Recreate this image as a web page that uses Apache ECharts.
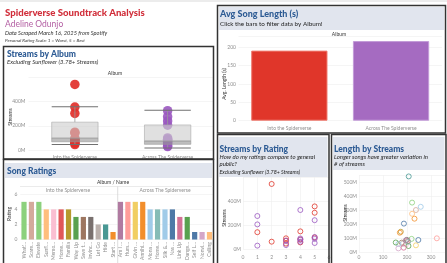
<!DOCTYPE html>
<html><head><meta charset="utf-8">
<script src="https://cdn.jsdelivr.net/npm/echarts@6/dist/echarts.min.js"></script>
<style>html,body{margin:0;padding:0;background:#fff}#c{width:447px;height:263px}</style>
</head><body><div id="c"></div>
<script>
// ---------- DATA ----------
const albums = ['Into the Spiderverse', 'Across The Spiderverse'];
const avgLength = [191, 217];
const excludedSong = 'Sunflower';

const intoNames = ["What's Up Danger", 'Scared of Heights', 'Elevate', 'Sunflower', 'Memories', 'Home (ITS)', 'Familia', 'Way Up', 'Save the Day', 'Invincible', 'Let Go', 'Hide', 'Start a Riot'];
const intoRatings = [5, 5, 5, 4, 4, 4, 4, 3, 3, 3, 2, 2, 1];
const intoStreams = [355, 302, 96, 3780, 55, 80, 147, 45, 69, 89, 61, 542, 140];
const intoLengths = [221, 237, 219, 158, 195, 203, 174, 206, 178, 199, 182, 207, 170];
const intoColors = ['#8cd17d', '#d4aa9c', '#8cd17d', '#ffbe7d', '#fabfd2', '#e15759', '#b6992d', '#59a14f', '#9d7660', '#79706e', '#bab0ac', '#499894', '#f28e2b'];

const acrossNames = ['Am I Dreaming', 'Hummingbird', 'Givin Up (Not The One)', 'Annihilate', 'Mona Lisa', 'Home (ATS)', 'Silk & Cologne', 'Nas Morales', 'Link Up', 'Danger (Spider)', 'Self Love', 'Nonviolent', 'Calling'];
const acrossRatings = [5, 5, 5, 5, 4, 4, 4, 4, 3, 3, 1, 1, 1];
const acrossStreams = [85, 100, 50, 240, 325, 76, 60, 88, 33, 70, 205, 28, 275];
const acrossLengths = [195, 324, 237, 231, 257, 205, 164, 247, 186, 153, 187, 164, 221];
const acrossColors = ['#b07aa1', '#ff9d9a', '#f1ce63', '#f28e2b', '#a0cbe8', '#86bcb6', '#a0cbe8', '#4e79a7', '#d37295', '#59a14f', '#4e79a7', '#d4a6c8', '#ffbe7d'];

// box plot stats [min, q1, median, q3, max] (M streams)
const boxInto = [45, 68, 98, 230, 357];
const boxAcross = [17, 47, 74, 207, 328];

// ---------- CHART ----------
const F = 'Lato, "Open Sans", sans-serif';
const BLUE = '#2d5b94';
const BAND = '#e1e5ee';
const TICK = '#8f8f8f';
const chart = echarts.init(document.getElementById('c'), null, {renderer: 'canvas'});

function txt(x, y, text, o) {
  o = o || {};
  return {type: 'text', x: x, y: y, rotation: o.rot || 0, z: 10,
    style: {text: text, fontFamily: F, fontSize: o.size || 5, fontWeight: o.weight || 'normal',
      fontStyle: o.style || 'normal', fill: o.color || '#333', align: o.align || 'left', verticalAlign: 'middle'}};
}
function rect(x, y, w, h, o) {
  return {type: 'rect', shape: {x: x, y: y, width: w, height: h}, z: o.z || 1,
    style: {fill: o.fill || 'none', stroke: o.stroke || null, lineWidth: o.lw || 0}};
}
function line(x1, y1, x2, y2, c, w) {
  return {type: 'line', shape: {x1: x1, y1: y1, x2: x2, y2: y2}, z: 2, style: {stroke: c, lineWidth: w || 0.6}};
}

const keep = (arr, names) => arr.filter((v, i) => names[i] !== excludedSong);

const graphics = [
  rect(0, 0, 447, 2, {fill: '#ececec'}),
  txt(5, 12.5, 'Spiderverse Soundtrack Analysis', {size: 9.6, weight: 900, color: '#d12f3b'}),
  txt(5, 24, 'Adeline Odunjo', {size: 8.5, color: '#b35fa3'}),
  txt(5, 33.5, 'Data Scraped March 16, 2025 from Spotify', {size: 5.7, style: 'italic', color: '#333'}),
  txt(5, 40.5, 'Personal Rating Scale: 1 = Worst, 5 = Best', {size: 4.6, style: 'italic', color: '#333'}),

  // Panel A
  rect(3.5, 46.5, 210, 112.5, {stroke: '#333', lw: 1.5}),
  txt(7, 54, 'Streams by Album', {size: 8.5, weight: 900, color: BLUE}),
  txt(7, 62, 'Excluding Sunflower (3.78+ Streams)', {size: 6, style: 'italic', color: '#333'}),
  txt(115, 73, 'Album', {size: 5, align: 'center'}),
  txt(10, 117, 'Streams', {size: 5, align: 'center', rot: Math.PI / 2}),

  // Panel B
  rect(3.5, 159.5, 210, 110, {stroke: '#333', lw: 1.5}),
  rect(5, 163, 207, 15, {fill: BAND}),
  txt(7, 171.5, 'Song Ratings', {size: 8.5, weight: 900, color: BLUE}),
  txt(113, 182.5, 'Album / Name', {size: 5, align: 'center'}),
  txt(68, 190, albums[0], {size: 5, align: 'center', color: TICK}),
  txt(165, 190, albums[1], {size: 5, align: 'center', color: TICK}),
  line(20, 186.5, 213, 186.5, '#dddddd', 0.6),
  line(117.7, 186.5, 117.7, 263, '#cfcfcf', 0.7),
  txt(9, 214, 'Rating', {size: 5, align: 'center', rot: Math.PI / 2}),

  // Panel C
  rect(217.5, 5.5, 228, 127.5, {stroke: '#333', lw: 1.5}),
  rect(219, 7, 225, 23, {fill: BAND}),
  txt(220, 14.5, 'Avg Song Length (s)', {size: 9, weight: 900, color: BLUE}),
  txt(220, 23.5, 'Click the bars to filter data by Album!', {size: 6.3, color: '#222'}),
  txt(339, 34, 'Album', {size: 5, align: 'center'}),
  txt(224, 84, 'Avg. Length (s)', {size: 5, align: 'center', rot: Math.PI / 2}),

  // Panel D
  rect(217.5, 134.5, 111.5, 135, {stroke: '#333', lw: 1.5}),
  rect(219, 137, 108.5, 40, {fill: BAND}),
  txt(219.5, 149, 'Streams by Rating', {size: 8.5, weight: 900, color: BLUE}),
  txt(219.5, 157, 'How do my ratings compare to general', {size: 6, style: 'italic', color: '#222'}),
  txt(219.5, 164.5, 'public?', {size: 6, style: 'italic', color: '#222'}),
  txt(219.5, 172, 'Excluding Sunflower (3.78+ Streams)', {size: 5.3, style: 'italic', color: '#222'}),
  txt(224, 218, 'Streams', {size: 5, align: 'center', rot: Math.PI / 2}),

  // Panel E
  rect(331.5, 134.5, 114.5, 135, {stroke: '#333', lw: 1.5}),
  rect(333, 137, 111.5, 33, {fill: BAND}),
  txt(334, 149, 'Length by Streams', {size: 8.5, weight: 900, color: BLUE}),
  txt(334, 157, 'Longer songs have greater variation in', {size: 6, style: 'italic', color: '#222'}),
  txt(334, 164.5, '# of streams', {size: 6, style: 'italic', color: '#222'}),
  txt(345, 213, 'Streams', {size: 5, align: 'center', rot: Math.PI / 2})
];

const lbl = (o) => Object.assign({fontSize: 5, color: TICK, fontFamily: F}, o || {});
const split = {show: true, lineStyle: {color: '#efefef', width: 0.6}};
const none = {show: false};

const grids = [
  {left: 28.5, top: 77.4, width: 185.5, height: 72.6},
  {left: 20.3, top: 194.3, width: 192.9, height: 47},
  {left: 238.5, top: 36.3, width: 203.4, height: 84.4},
  {left: 243, top: 177, width: 86, height: 72},
  {left: 359, top: 175.3, width: 86, height: 77}
];

const ratingCats = intoNames.concat(acrossNames);
const ratingVals = intoRatings.concat(acrossRatings);
const ratingCols = intoColors.concat(acrossColors);

const xAxes = [
  {gridIndex: 0, type: 'category', data: albums, axisLine: none, axisTick: none, axisLabel: lbl({margin: 4.5})},
  {gridIndex: 1, type: 'category', data: ratingCats, axisLine: none, axisTick: none,
    axisLabel: lbl({rotate: 90, interval: 0, margin: 2.5, width: 19, overflow: 'truncate', ellipsis: '…'})},
  {gridIndex: 2, type: 'category', data: albums, axisLine: none, axisTick: none, axisLabel: lbl({margin: 5})},
  {gridIndex: 3, type: 'value', min: 0, max: 6, interval: 1, axisLine: none, axisTick: none, splitLine: split,
    axisLabel: lbl({margin: 5.5})},
  {gridIndex: 4, type: 'value', min: 0, max: 358, interval: 100, axisLine: none, axisTick: none, splitLine: split,
    axisLabel: lbl({margin: 3, showMaxLabel: false})}
];
const mfmt = v => v + 'M';
const yAxes = [
  {gridIndex: 0, type: 'value', min: 0, max: 600, interval: 200, axisLine: none, axisTick: none, splitLine: split,
    axisLabel: lbl({margin: 3, formatter: mfmt, showMaxLabel: false})},
  {gridIndex: 1, type: 'value', min: 0, max: 6, interval: 2, axisLine: none, axisTick: none, splitLine: split,
    axisLabel: lbl({margin: 3})},
  {gridIndex: 2, type: 'value', min: 0, max: 230, interval: 50, axisLine: none, axisTick: none, splitLine: split,
    axisLabel: lbl({margin: 2.5, showMaxLabel: false})},
  {gridIndex: 3, type: 'value', min: 0, max: 600, interval: 200, axisLine: none, axisTick: none, splitLine: split,
    axisLabel: lbl({margin: 2, formatter: mfmt, showMaxLabel: false})},
  {gridIndex: 4, type: 'value', min: 0, max: 550, interval: 100, axisLine: none, axisTick: none, splitLine: split,
    axisLabel: lbl({margin: 2, formatter: mfmt, showMaxLabel: false})}
];

const intoKeptStreams = keep(intoStreams, intoNames);
const acrossKeptStreams = keep(acrossStreams, acrossNames);

const series = [
  // Streams by album dots
  {type: 'scatter', xAxisIndex: 0, yAxisIndex: 0, z: 2, clip: false, symbolSize: 9.5,
    itemStyle: {color: '#e1302a', opacity: 0.92},
    data: intoKeptStreams.map(s => [0, s])},
  {type: 'scatter', xAxisIndex: 0, yAxisIndex: 0, z: 2, clip: false, symbolSize: 9.5,
    itemStyle: {color: '#9a58c0', opacity: 0.9},
    data: acrossKeptStreams.map(s => [1, s])},
  // box plots drawn over dots
  {type: 'custom', xAxisIndex: 0, yAxisIndex: 0, z: 5, clip: false,
    data: [[0].concat(boxInto), [1].concat(boxAcross)],
    encode: {x: 0, y: [1, 2, 3, 4, 5]},
    renderItem: function (params, api) {
      const c = api.value(0);
      const cx = api.coord([c, 0])[0];
      const half = api.size([1, 0])[0] * 0.25;
      const Y = i => api.coord([c, api.value(i)])[1];
      const yMin = Y(1), yQ1 = Y(2), yMed = Y(3), yQ3 = Y(4), yMax = Y(5);
      return {type: 'group', children: [
        {type: 'line', shape: {x1: cx, y1: yMax, x2: cx, y2: yQ3}, style: {stroke: '#9a9a9a', lineWidth: 0.8}},
        {type: 'line', shape: {x1: cx, y1: yQ1, x2: cx, y2: yMin}, style: {stroke: '#9a9a9a', lineWidth: 0.8}},
        {type: 'rect', shape: {x: cx - half, y: yQ3, width: 2 * half, height: yMed - yQ3},
          style: {fill: 'rgba(205,205,205,0.62)', stroke: '#a8a8a8', lineWidth: 0.6}},
        {type: 'rect', shape: {x: cx - half, y: yMed, width: 2 * half, height: yQ1 - yMed},
          style: {fill: 'rgba(150,150,150,0.62)', stroke: '#999', lineWidth: 0.6}},
        {type: 'line', shape: {x1: cx - half, y1: yMax, x2: cx + half, y2: yMax}, style: {stroke: '#707070', lineWidth: 1.1}},
        {type: 'line', shape: {x1: cx - half, y1: yMin, x2: cx + half, y2: yMin}, style: {stroke: '#707070', lineWidth: 1.1}}
      ]};
    }},
  // Song ratings bars
  {type: 'bar', xAxisIndex: 1, yAxisIndex: 1, barCategoryGap: '30%',
    data: ratingVals.map((v, i) => ({value: v, itemStyle: {color: ratingCols[i]}}))},
  // Avg song length bars
  {type: 'bar', xAxisIndex: 2, yAxisIndex: 2, barCategoryGap: '25%',
    data: [
      {value: avgLength[0], itemStyle: {color: '#e0362a', borderColor: '#ef7b70', borderWidth: 1}},
      {value: avgLength[1], itemStyle: {color: '#a56bc1', borderColor: '#c39bd8', borderWidth: 1}}
    ]},
  // Streams by rating
  {type: 'scatter', xAxisIndex: 3, yAxisIndex: 3, symbolSize: 5, clip: false,
    itemStyle: {color: 'rgba(0,0,0,0)', borderColor: '#e0362a', borderWidth: 1},
    data: keep(intoRatings, intoNames).map((r, i) => [r, intoKeptStreams[i]])},
  {type: 'scatter', xAxisIndex: 3, yAxisIndex: 3, symbolSize: 5, clip: false,
    itemStyle: {color: 'rgba(0,0,0,0)', borderColor: '#9a58c0', borderWidth: 1},
    data: keep(acrossRatings, acrossNames).map((r, i) => [r, acrossKeptStreams[i]])},
  // Length by streams
  {type: 'scatter', xAxisIndex: 4, yAxisIndex: 4, symbolSize: 5, clip: false,
    data: keep(intoLengths, intoNames).map((l, i) => ({value: [l, intoKeptStreams[i]],
      itemStyle: {color: 'rgba(0,0,0,0)', borderColor: keep(intoColors, intoNames)[i], borderWidth: 1}}))
      .concat(keep(acrossLengths, acrossNames).map((l, i) => ({value: [l, acrossKeptStreams[i]],
      itemStyle: {color: 'rgba(0,0,0,0)', borderColor: keep(acrossColors, acrossNames)[i], borderWidth: 1}})))}
];

chart.setOption({
  animation: false,
  backgroundColor: '#ffffff',
  textStyle: {fontFamily: F},
  grid: grids,
  xAxis: xAxes,
  yAxis: yAxes,
  series: series,
  graphic: {elements: graphics}
});
</script>
</body></html>
